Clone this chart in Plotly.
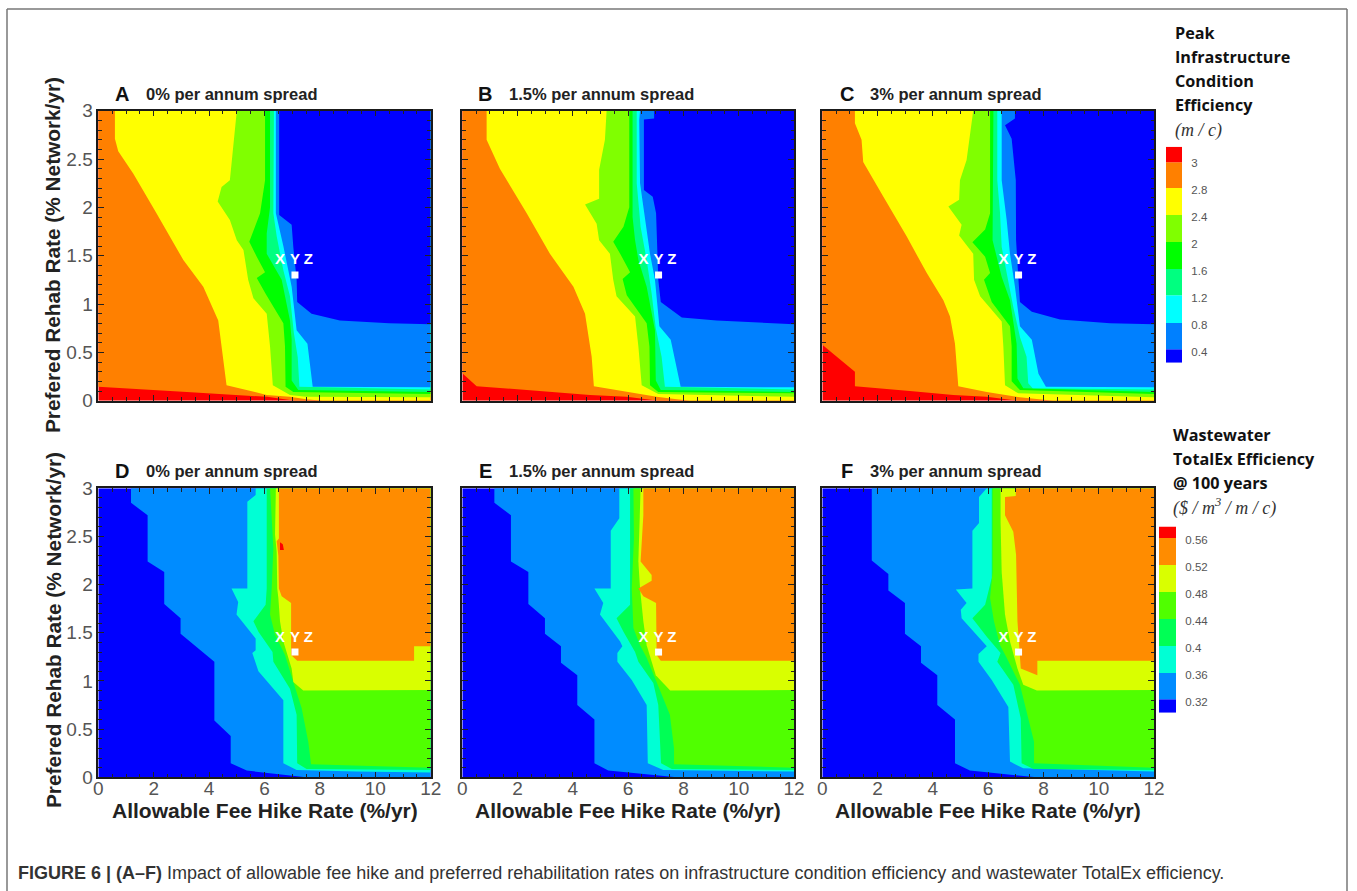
import plotly.graph_objects as go

W, H = 1357, 891

# ---------- data: contour boundaries, (fee hike %/yr, rehab rate %/yr) ----------
A_RED    = [(0,3),(0,0)]
A_ORANGE = [(0,3),(0,.145),(3.2,.09),(5,.06),(6.1,.04),(7.1,0)]
A_YELLOW = [(.6,3),(.6,2.71),(.72,2.58),(1.26,2.35),(2.1,1.94),(3.07,1.455),(3.79,1.18),(4.33,.83),(4.45,.56),(4.63,.16),(6.08,.06),(6.92,.04),(7.5,.014),(8.1,0)]
A_LIME   = [(5,3),(4.87,2.63),(4.75,2.28),(4.45,2.21),(4.31,2.06),(4.75,1.87),(5,1.66),(5.24,1.56),(5.41,1.25),(5.6,1.06),(6.08,.9),(6.2,.56),(6.3,.16),(6.92,.06),(7.5,.04),(12,.035)]
A_GREEN  = [(6.02,3),(6.02,2.28),(5.84,1.94),(5.45,1.645),(5.72,1.49),(6.02,1.33),(5.72,1.27),(6.05,1.1),(6.68,.8),(6.74,.56),(6.76,.145),(7.04,.09),(12,.07)]
A_SPRING = [(6.2,3),(6.2,2),(6.08,1.73),(6.08,1.52),(6.62,1.25),(6.92,.83),(6.98,.63),(6.98,.21),(7.22,.11),(12,.09)]
A_CYAN   = [(6.34,3),(6.32,1.94),(6.44,1.7),(6.68,1.35),(6.92,1.08),(7.06,.7),(7.2,.45),(7.26,.145),(12,.117)]
A_AZURE  = [(6.41,3),(6.41,1.94),(6.68,1.6),(6.98,1.18),(7.16,.73),(7.55,.59),(7.74,.145),(12,.138)]
A_BLUE   = [(6.53,3),(6.53,1.92),(6.98,1.82),(7.04,1.59),(7.16,1.25),(7.18,1.02),(7.7,.9),(8.72,.83),(10.5,.8),(12,.79)]

B_RED    = [(0,3),(0,0)]
B_ORANGE = [(0,3),(0,.283),(.52,.15),(3.17,.09),(4.62,.06),(5.95,.04),(7.03,.007),(7.1,0)]
B_YELLOW = [(.88,3),(.88,2.7),(1.36,2.4),(2.33,1.94),(3.17,1.52),(4.02,1.18),(4.44,.9),(4.68,.455),(4.76,.15),(5.95,.09),(7.03,.04),(7.76,.014),(8.24,0)]
B_LIME   = [(5.22,3),(5.16,2.7),(4.95,2.39),(4.95,2.09),(4.44,2.03),(4.86,1.83),(4.95,1.66),(5.34,1.52),(5.46,1.25),(5.58,1.08),(6.25,.87),(6.37,.56),(6.49,.16),(7.09,.07),(12,.04)]
B_GREEN  = [(6.04,3),(6.04,2),(5.83,1.8),(5.46,1.645),(5.77,1.49),(6.07,1.33),(5.8,1.26),(5.95,1.09),(6.67,.8),(6.77,.56),(6.79,.16),(7.09,.09),(12,.076)]
B_SPRING = [(6.16,3),(6.16,1.9),(6.25,1.66),(6.37,1.455),(6.67,1.18),(6.97,.73),(7,.21),(7.18,.11),(12,.09)]
B_CYAN   = [(6.31,3),(6.31,2.25),(6.45,1.8),(6.67,1.455),(6.85,1.11),(7,.75),(7.21,.455),(7.33,.145),(12,.117)]
B_AZURE  = [(6.43,3),(6.4,2.9),(6.43,2.25),(6.61,1.87),(6.79,1.52),(6.97,1.25),(7.13,.77),(7.54,.63),(7.9,.145),(12,.138)]
B_BLUE   = [(6.94,3),(6.94,2.92),(6.57,2.91),(6.57,2.18),(6.89,2.11),(7.01,1.94),(7.09,1.25),(7.18,1.02),(7.94,.86),(9.2,.83),(12,.79)]

C_RED    = [(0,3),(0,0)]
C_ORANGE = [(0,3),(0,.58),(1.18,.3),(1.18,.15),(3.17,.1),(4.74,.06),(5.95,.04),(7.03,.007),(7.1,0)]
C_YELLOW = [(1.18,3),(1.18,2.87),(1.42,2.7),(1.48,2.47),(2.21,2.11),(3.05,1.7),(3.78,1.32),(4.38,1.04),(4.62,.87),(4.8,.59),(4.92,.15),(5.95,.09),(7.15,.035),(7.88,.014),(8.36,0)]
C_LIME   = [(5.46,3),(5.22,2.49),(4.98,2.28),(4.95,2.08),(4.56,2.01),(5.04,1.82),(4.95,1.71),(5.46,1.52),(5.49,1.25),(5.71,1.08),(6.49,.82),(6.55,.56),(6.61,.16),(7.09,.076),(12,.035)]
C_GREEN  = [(6.07,3),(6.07,1.94),(5.89,1.77),(5.43,1.64),(5.89,1.49),(6.07,1.32),(5.85,1.25),(6.13,1.02),(6.79,.77),(6.85,.56),(6.85,.2),(7.15,.11),(12,.07)]
C_SPRING = [(6.19,3),(6.16,1.94),(6.16,1.66),(6.49,1.28),(6.79,1.04),(7.03,.59),(7.06,.23),(7.27,.13),(12,.09)]
C_CYAN   = [(6.33,3),(6.33,2.28),(6.43,1.94),(6.49,1.59),(6.67,1.32),(6.91,.97),(7.15,.66),(7.39,.455),(7.45,.18),(7.61,.13),(12,.117)]
C_AZURE  = [(6.49,3),(6.49,2.28),(6.67,1.87),(6.79,1.52),(6.97,1.18),(7.15,.77),(7.58,.63),(7.82,.28),(8.09,.145),(12,.138)]
C_BLUE   = [(6.97,3),(6.97,2.92),(6.61,2.85),(6.85,2.71),(7,2.28),(7.01,1.66),(7.09,1.28),(7.15,1.02),(7.58,.92),(8.6,.84),(10.41,.8),(12,.79)]

D_BLUE   = [(0,3),(0,0)]
D_AZURE  = [(1.18,3),(1.18,2.85),(1.78,2.72),(1.78,2.24),(2.38,2.13),(2.38,1.8),(2.97,1.65),(2.97,1.49),(4.19,1.2),(4.19,.59),(4.78,.43),(4.78,.145),(5.36,.07),(7.2,.01),(7.5,0)]
D_CYAN   = [(5.68,3),(5.68,2.93),(5.38,2.86),(5.38,1.96),(4.81,1.96),(5.05,1.82),(4.99,1.69),(5.68,1.44),(5.68,1.32),(5.56,1.29),(5.78,1.1),(6.68,.8),(6.68,.145),(7.16,.076),(9.33,.06),(12,.05)]
D_GREEN  = [(6.08,3),(6.08,1.96),(6.04,1.79),(5.6,1.62),(5.78,1.51),(6.29,1.3),(6.32,1.2),(6.92,.92),(7.16,.65),(7.18,.145),(7.52,.087),(12,.076)]
D_LIME   = [(6.2,3),(6.32,2.48),(6.32,2.38),(6.26,1.96),(6.2,1.69),(6.38,1.48),(6.74,1.27),(7.04,.99),(7.34,.72),(7.58,.37),(7.68,.135),(12,.1)]
D_CHART  = [(6.41,3),(6.38,2.52),(6.44,2.34),(6.46,1.96),(6.5,1.86),(6.56,1.62),(6.68,1.41),(6.98,1.13),(7.04,.99),(7.4,.9),(12,.905)]
D_ORANGE = [(6.52,3),(6.52,2.48),(6.44,2.45),(6.5,2.3),(6.52,1.96),(6.62,1.88),(6.96,1.81),(6.96,1.27),(7.18,1.21),(11.4,1.21),(11.4,1.36),(12,1.36)]
D_SPECK  = [(6.56,2.44),(6.66,2.42),(6.7,2.36),(6.56,2.36)]

E_BLUE   = [(0,3),(0,0)]
E_AZURE  = [(1.16,3),(1.16,2.85),(1.76,2.72),(1.76,2.24),(2.39,2.13),(2.39,1.8),(2.99,1.65),(2.99,1.49),(3.57,1.36),(3.57,1.19),(4.16,1.06),(4.16,.75),(4.78,.6),(4.78,.145),(5.28,.07),(7.27,.017),(7.76,0)]
E_CYAN   = [(5.68,3),(5.68,2.69),(5.37,2.56),(5.37,1.96),(4.78,1.96),(5.1,1.81),(4.98,1.69),(5.71,1.41),(5.79,1.36),(5.61,1.29),(5.61,1.2),(6.13,1.01),(6.67,.75),(6.71,.145),(7.27,.076),(12,.06)]
E_GREEN  = [(6.07,3),(6.07,1.79),(5.58,1.65),(5.83,1.51),(6.25,1.3),(6.37,1.2),(6.91,.98),(7.09,.75),(7.19,.145),(7.58,.087),(12,.076)]
E_LIME   = [(6.19,3),(6.21,2.48),(6.13,1.96),(6.19,1.55),(6.43,1.37),(6.67,1.24),(7.03,.99),(7.51,.65),(7.66,.3),(7.66,.135),(12,.1)]
E_CHART  = [(6.45,3),(6.42,2.6),(6.37,2.24),(6.43,1.96),(6.55,1.62),(6.67,1.37),(7,1.06),(7.52,.9),(12,.905)]
E_ORANGE = [(6.55,3),(6.55,2.72),(6.45,2.24),(6.85,2.1),(6.85,2.04),(6.37,1.96),(6.55,1.88),(7.01,1.81),(7.03,1.27),(7.18,1.21),(12,1.21)]

F_BLUE   = [(0,3),(0,0)]
F_AZURE  = [(1.79,3),(1.79,2.25),(2.39,2.11),(2.39,1.94),(2.99,1.81),(2.99,1.49),(3.57,1.36),(3.57,1.19),(4.16,1.06),(4.16,.75),(4.8,.6),(4.8,.145),(5.34,.07),(7.27,.017),(7.76,0)]
F_CYAN   = [(5.95,3),(5.67,2.91),(5.67,2.64),(5.43,2.56),(5.43,1.96),(4.83,1.95),(5.22,1.81),(5.01,1.74),(5.04,1.65),(5.95,1.36),(5.65,1.28),(5.65,1.2),(6.13,1.01),(6.73,.73),(6.79,.163),(7.27,.093),(12,.06)]
F_GREEN  = [(6.13,3),(6.13,2.07),(5.89,1.79),(5.43,1.65),(5.95,1.46),(6.45,1.29),(6.33,1.2),(6.91,.96),(7.18,.61),(7.21,.145),(7.64,.087),(12,.076)]
F_LIME   = [(6.16,3),(6.16,2.13),(6.07,1.86),(6.21,1.62),(6.43,1.37),(6.67,1.24),(7.15,.96),(7.39,.68),(7.66,.37),(7.66,.145),(12,.1)]
F_CHART  = [(6.45,3),(6.45,2.65),(6.49,2.13),(6.61,1.69),(6.79,1.41),(7.06,1.13),(7.27,.96),(7.76,.9),(12,.905)]
F_ORANGE = [(7,3),(7,2.92),(6.61,2.91),(6.61,2.72),(6.91,2.55),(7.01,2.31),(7.06,1.62),(7.18,1.13),(7.78,1.06),(7.78,1.21),(12,1.21)]

MARK_X, MARK_Y = [7.1], [1.3]
XYZ_LABELS = ["X", "Y", "Z"]
XYZ_X = [6.56, 7.1, 7.58]
XYZ_Y_TOP, XYZ_Y_BOT = 1.45, 1.44

SPREADS = ["0% per annum spread", "1.5% per annum spread", "3% per annum spread"]
PANEL_LETTERS = ["A", "B", "C", "D", "E", "F"]
X_TICKS = [0, 2, 4, 6, 8, 10, 12]
Y_TICKS = [0, .5, 1, 1.5, 2, 2.5, 3]
Y_TICK_TEXT = ["0", "0.5", "1", "1.5", "2", "2.5", "3"]

CB1_LABELS = ["0.4", "0.8", "1.2", "1.6", "2", "2.4", "2.8", "3"]
CB1_TOPS = [.1, 1.07, 2.1, 3.07, 4.07, 5.07, 6.07, 7.03, 7.6]
CB2_LABELS = ["0.32", "0.36", "0.4", "0.44", "0.48", "0.52", "0.56"]
CB2_TOPS = [.1, 1.07, 2.07, 3.07, 4.07, 5.07, 6.07, 6.5]

# ---------- styling ----------
RED, ORANGE, YELLOW, LIME, GREEN, SPRING, CYAN, AZURE, BLUE = (
    "#ff0000", "#ff8000", "#ffff00", "#80ff00", "#00ff00", "#00ff80", "#00ffff", "#0080ff", "#0000ff")
L_ORANGE, L_CHART, L_LIME, L_GREEN, L_CYAN, L_AZURE = (
    "#ff8c00", "#d9ff00", "#50ff00", "#00ff55", "#00ffd5", "#008cff")
UP_COLORS = [RED, ORANGE, YELLOW, LIME, GREEN, SPRING, CYAN, AZURE, BLUE]
LOW_COLORS = [BLUE, L_AZURE, L_CYAN, L_GREEN, L_LIME, L_CHART, L_ORANGE]

PANELS = [
    ([A_RED, A_ORANGE, A_YELLOW, A_LIME, A_GREEN, A_SPRING, A_CYAN, A_AZURE, A_BLUE], UP_COLORS),
    ([B_RED, B_ORANGE, B_YELLOW, B_LIME, B_GREEN, B_SPRING, B_CYAN, B_AZURE, B_BLUE], UP_COLORS),
    ([C_RED, C_ORANGE, C_YELLOW, C_LIME, C_GREEN, C_SPRING, C_CYAN, C_AZURE, C_BLUE], UP_COLORS),
    ([D_BLUE, D_AZURE, D_CYAN, D_GREEN, D_LIME, D_CHART, D_ORANGE], LOW_COLORS),
    ([E_BLUE, E_AZURE, E_CYAN, E_GREEN, E_LIME, E_CHART, E_ORANGE], LOW_COLORS),
    ([F_BLUE, F_AZURE, F_CYAN, F_GREEN, F_LIME, F_CHART, F_ORANGE], LOW_COLORS),
]
PX_X = [(98.3, 430.7), (462.3, 794), (822.3, 1154)]
PX_Y = [(110.7, 400.7), (488.3, 777.3)]
LETTER_PX = [122, 485, 847]
SPREAD_PX = [145, 508, 869]
ROW_Y = [94, 471]

fig = go.Figure()
layout = {}
ann = []


def dx(p):
    return p / W


def dy(p):
    return 1 - p / H


def text(px, py, s, size, color="#222", family="Liberation Sans", anchor="left", angle=0):
    ann.append(dict(x=dx(px), y=dy(py), xref="paper", yref="paper", text=s, showarrow=False,
                    xanchor=anchor, yanchor="middle", textangle=angle, borderpad=0,
                    font=dict(size=size, color=color, family=family)))


for i, (regions, colors) in enumerate(PANELS):
    r, c = divmod(i, 3)
    n = i + 1
    xa, ya = f"x{n}", f"y{n}"
    for pts, col in zip(regions, colors):
        xs = [p[0] for p in pts] + [12, 12]
        ys = [p[1] for p in pts] + [pts[-1][1], pts[0][1]]
        if pts[-1] == (0, 0):
            xs, ys = [0, 0, 12, 12], [3, 0, 0, 3]
        fig.add_trace(go.Scatter(x=xs, y=ys, xaxis=xa, yaxis=ya, mode="lines", fill="toself",
                                 fillcolor=col, line=dict(width=0), hoverinfo="skip", showlegend=False))
    if i == 3:
        fig.add_trace(go.Scatter(x=[p[0] for p in D_SPECK], y=[p[1] for p in D_SPECK], xaxis=xa, yaxis=ya,
                                 mode="lines", fill="toself", fillcolor=RED, line=dict(width=0),
                                 hoverinfo="skip", showlegend=False))
    fig.add_trace(go.Scatter(x=MARK_X, y=MARK_Y, xaxis=xa, yaxis=ya, mode="markers",
                             marker=dict(symbol="square", size=7, color="white"), showlegend=False))
    fig.add_trace(go.Scatter(x=XYZ_X, y=[XYZ_Y_BOT if r else XYZ_Y_TOP] * 3, xaxis=xa, yaxis=ya, mode="text",
                             text=XYZ_LABELS, textposition="middle center",
                             textfont=dict(size=15, color="white", family="Liberation Sans", weight="bold"),
                             showlegend=False))
    x0, x1 = PX_X[c]
    y0, y1 = PX_Y[r]
    axis_common = dict(showgrid=False, zeroline=False, showline=True, linecolor="#1a1a1a", linewidth=1.5,
                       mirror="ticks", ticks="inside", ticklen=6, tickwidth=1.2, tickcolor="#222", automargin=False,
                       tickfont=dict(size=19, color="#555", family="Liberation Sans"))
    layout[f"xaxis{n}"] = dict(axis_common, domain=[dx(x0), dx(x1)], range=[0, 12], anchor=ya,
                               tickmode="array", tickvals=X_TICKS, showticklabels=(r == 1), ticklabelstandoff=-7,
                               minor=dict(dtick=.5, ticks="inside", ticklen=3.5, tickcolor="#222", tickwidth=1))
    layout[f"yaxis{n}"] = dict(axis_common, domain=[dy(y1), dy(y0)], range=[0, 3], anchor=xa,
                               tickmode="array", tickvals=Y_TICKS, ticktext=Y_TICK_TEXT, showticklabels=(c == 0),
                               minor=dict(dtick=.1, ticks="inside", ticklen=3.5, tickcolor="#222", tickwidth=1))
    text(LETTER_PX[c], ROW_Y[r], f"<b>{PANEL_LETTERS[i]}</b>", 20, "#111", anchor="center")
    text(SPREAD_PX[c], ROW_Y[r], f"<b>{SPREADS[c]}</b>", 16.5, "#222")
    if r == 1:
        text((x0 + x1) / 2, 810, "<b>Allowable Fee Hike Rate (%/yr)</b>", 21, "#222", anchor="center")

text(53, 255, "<b>Prefered Rehab Rate (% Network/yr)</b>", 20.8, "#222", anchor="center", angle=-90)
text(53, 630, "<b>Prefered Rehab Rate (% Network/yr)</b>", 20.8, "#222", anchor="center", angle=-90)


def colorbar(n, tops, cols, labels, px0, px1, py_first, py_step, bottom):
    xa, ya = f"x{n}", f"y{n}"
    prev = bottom
    for top, col in zip(tops, cols):
        fig.add_trace(go.Bar(x=[0], y=[top - prev], base=[prev], width=[1], xaxis=xa, yaxis=ya,
                             marker=dict(color=col, line=dict(width=0)), showlegend=False, hoverinfo="skip"))
        prev = top
    lo, hi = bottom, tops[-1]
    layout[f"xaxis{n}"] = dict(domain=[dx(px0), dx(px1)], range=[-.5, .5], visible=False, anchor=ya, automargin=False)
    layout[f"yaxis{n}"] = dict(domain=[dy(py_first - lo * py_step), dy(py_first - hi * py_step)],
                               range=[lo, hi], anchor=xa, side="right", showline=False, showgrid=False, zeroline=False,
                               tickmode="array", tickvals=list(range(len(labels))), ticktext=labels, ticks="outside",
                               ticklen=6, tickcolor="rgba(0,0,0,0)", automargin=False,
                               tickfont=dict(size=11.5, color="#555", family="Liberation Sans"))


colorbar(7, CB1_TOPS, [BLUE, AZURE, CYAN, SPRING, GREEN, LIME, YELLOW, ORANGE, RED], CB1_LABELS, 1166, 1182, 352, 27, -.4)
colorbar(8, CB2_TOPS, [BLUE, L_AZURE, L_CYAN, L_GREEN, L_LIME, L_CHART, L_ORANGE, RED], CB2_LABELS, 1159, 1176, 702, 27, -.4)

HEAD = "Open Sans"
for py, s in zip([33, 57, 81, 105], ["Peak", "Infrastructure", "Condition", "Efficiency"]):
    text(1174, py, f"<b>{s}</b>", 16.2, "#111", HEAD)
text(1174, 130, "<i>(m / c)</i>", 18, "#333", "Liberation Serif")
for py, s in zip([435, 459, 483], ["Wastewater", "TotalEx Efficiency", "@ 100 years"]):
    text(1172, py, f"<b>{s}</b>", 16.2, "#111", HEAD)
text(1172, 507, "<i>($ / m<sup>3</sup> / m / c)</i>", 18, "#333", "Liberation Serif")

text(17, 873, "<b>FIGURE 6 | (A–F)</b> Impact of allowable fee hike and preferred rehabilitation rates on "
              "infrastructure condition efficiency and wastewater TotalEx efficiency.", 18, "#333")

FRAME = "#777777"
shapes = [
    dict(type="line", xref="paper", yref="paper", x0=dx(7), x1=dx(1347), y0=dy(9), y1=dy(9), line=dict(color=FRAME, width=1.5)),
    dict(type="line", xref="paper", yref="paper", x0=dx(7), x1=dx(7), y0=dy(9), y1=0, line=dict(color=FRAME, width=1.5)),
    dict(type="line", xref="paper", yref="paper", x0=dx(1347), x1=dx(1347), y0=dy(9), y1=0, line=dict(color=FRAME, width=1.5)),
]

fig.update_layout(width=W, height=H, margin=dict(l=0, r=0, t=0, b=0), paper_bgcolor="white", plot_bgcolor="white",
                  barmode="overlay", showlegend=False, annotations=ann, shapes=shapes, **layout)
fig.write_html("out.html", config={"displayModeBar": False},
               post_script="document.body.style.margin='0';document.body.style.overflow='hidden';")
